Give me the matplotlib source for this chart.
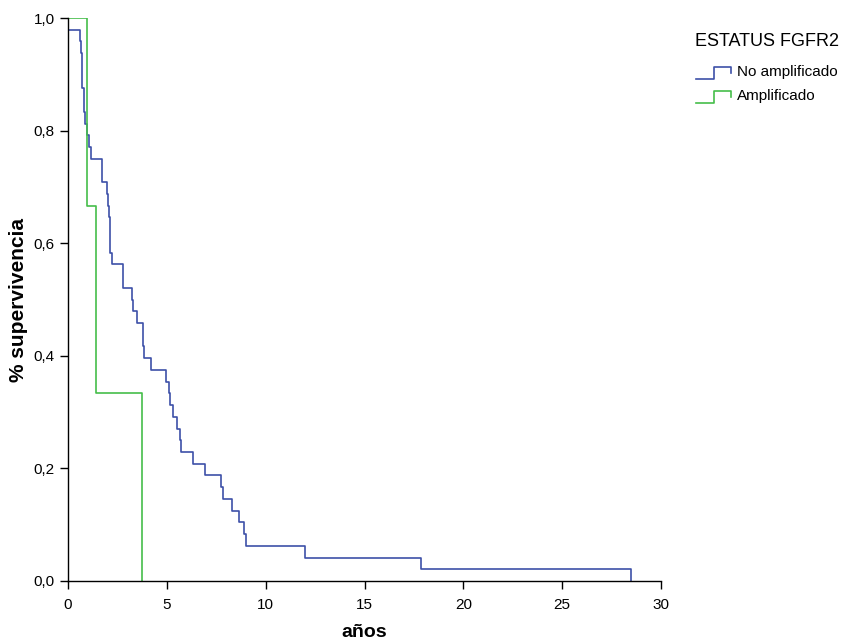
import numpy as np
import matplotlib
matplotlib.use("Agg")
from matplotlib import pyplot as plt
from matplotlib.lines import Line2D

plt.rcParams['font.family'] = ['Liberation Sans', 'DejaVu Sans']

# Kaplan-Meier step data
n_no_amp = 48
no_amp_times = [0, 0.59, 0.64, 0.69, 0.81, 0.87, 0.98, 1.05, 1.16, 1.73, 1.96, 2.0, 2.05,
                2.1, 2.12, 2.15, 2.23, 2.8, 3.22, 3.27, 3.47, 3.78, 3.8, 3.82, 4.2, 4.94,
                5.12, 5.18, 5.33, 5.5, 5.67, 5.72, 6.34, 6.93, 7.72, 7.82, 8.28, 8.65, 8.9,
                9.0, 12.0, 17.87, 28.46]
no_amp_left = [47, 46, 45, 42, 40, 39, 38, 37, 36, 34, 33, 32, 31,
               30, 29, 28, 27, 25, 24, 23, 22, 21, 20, 19, 18, 17,
               16, 15, 14, 13, 12, 11, 10, 9, 8, 7, 6, 5, 4,
               3, 2, 1, 0]

amp_times = [0, 0.98, 1.42, 3.76]
amp_surv = [1.0, 2 / 3, 1 / 3, 0.0]

series_names = ["No amplificado", "Amplificado"]
series_colors = ["#3d50a8", "#45be4a"]
legend_title = "ESTATUS FGFR2"

x_ticks = [0, 5, 10, 15, 20, 25, 30]
y_ticks = [0.0, 0.2, 0.4, 0.6, 0.8, 1.0]

no_amp_surv = np.array(no_amp_left) / n_no_amp

fig = plt.figure(figsize=(8.5, 6.44), dpi=100)
ax = fig.add_axes([68 / 850, 1 - 581 / 644, 593 / 850, 563 / 644])

ax.step(no_amp_times, no_amp_surv, where="post", color=series_colors[0], lw=1.2)
ax.step(amp_times, amp_surv, where="post", color=series_colors[1], lw=1.2)

ax.set_xlim(0, 30)
ax.set_ylim(0, 1.0)
ax.set_xticks(x_ticks)
ax.set_yticks(y_ticks)
ax.set_yticklabels([f"{v:.1f}".replace(".", ",") for v in y_ticks])
ax.tick_params(direction="out", length=6, width=1, labelsize=11, colors="black")
ax.tick_params(axis="x", pad=6)
ax.spines["top"].set_visible(False)
ax.spines["right"].set_visible(False)
for s in ("left", "bottom"):
    ax.spines[s].set_linewidth(1)

ax.set_xlabel("años", fontsize=14, fontweight="bold")
ax.set_ylabel("% supervivencia", fontsize=15, fontweight="bold")
ax.xaxis.set_label_coords(0.5, -0.077)
ax.yaxis.set_label_coords(-0.068, 0.5)

# legend drawn by hand with the step-shaped keys
fig.text(767 / 850, 1 - 42 / 644, legend_title, fontsize=13, ha="center", va="center")
for i, (name, col) in enumerate(zip(series_names, series_colors)):
    yc = 72 + i * 24
    xs = np.array([696, 714, 714, 731, 731]) / 850
    ys = 1 - np.array([yc + 7, yc + 7, yc - 5, yc - 5, yc + 1]) / 644
    fig.add_artist(Line2D(xs, ys, color=col, lw=1.2, transform=fig.transFigure))
    fig.text(737 / 850, 1 - yc / 644, name, fontsize=11, ha="left", va="center")

fig.savefig("out.png", dpi=100)
